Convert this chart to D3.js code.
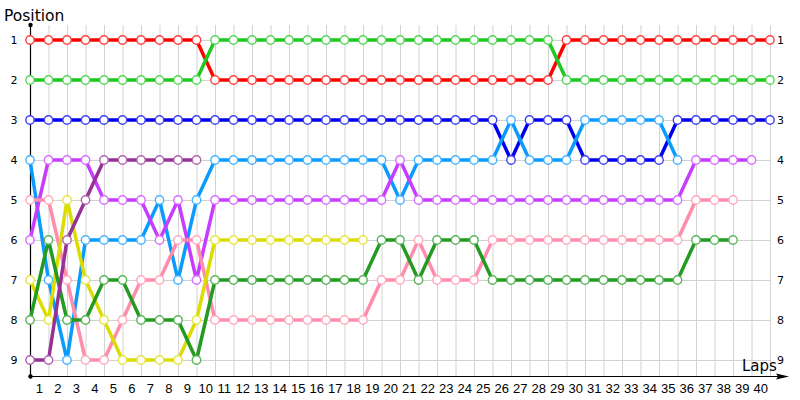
<!DOCTYPE html>
<html><head><meta charset="utf-8">
<script src="https://cdn.jsdelivr.net/npm/d3@7"></script>
<style>
html,body{margin:0;padding:0;background:#fff;}
svg{display:block;}
text{font-family:"DejaVu Sans",sans-serif;fill:#000;}
</style></head>
<body><svg id="chart" width="800" height="400"></svg>
<script>
// ---- data ----
const laps = d3.range(1, 41);            // tick labels 1..40
const positions = [1,2,3,4,5,6,7,8,9];
const seriesNames = ["red","green","blue","lightblue","violet","pink","yellow","darkgreen","plum"];
const seriesColors = ["#ff0000","#1ec81e","#0000f0","#0a9bff","#c83cff","#ff8caa","#dcdc00","#239b23","#963296"];
// position per lap (lap 0 = start)
const red       = [1,1,1,1,1,1,1,1,1,1, 2,2,2,2,2,2,2,2,2,2,2,2,2,2,2,2,2,2,2, 1,1,1,1,1,1,1,1,1,1,1,1];
const green     = [2,2,2,2,2,2,2,2,2,2, 1,1,1,1,1,1,1,1,1,1,1,1,1,1,1,1,1,1,1, 2,2,2,2,2,2,2,2,2,2,2,2];
const blue      = [3,3,3,3,3,3,3,3,3,3, 3,3,3,3,3,3,3,3,3,3,3,3,3,3,3,3, 4,3,3,3, 4,4,4,4,4, 3,3,3,3,3,3];
const lightblue = [4,7,9,6,6,6,6,5,7,5, 4,4,4,4,4,4,4,4,4,4, 5, 4,4,4,4,4, 3,4,4,4, 3,3,3,3,3, 4];
const violet    = [6,4,4,4,5,5,5,6,5,7, 5,5,5,5,5,5,5,5,5,5, 4, 5,5,5,5,5,5,5,5,5,5,5,5,5,5,5, 4,4,4,4];
const pink      = [5,5,7,9,9,8,7,7,6,6, 8,8,8,8,8,8,8,8,8, 7,7,6,7,7,7, 6,6,6,6,6,6,6,6,6,6,6, 5,5,5];
const yellow    = [7,8,5,7,8,9,9,9,9,8, 6,6,6,6,6,6,6,6,6];
const darkgreen = [8,6,8,8,7,7,8,8,8,9, 7,7,7,7,7,7,7,7,7, 6,6,7,6,6,6, 7,7,7,7,7,7,7,7,7,7,7, 6,6,6];
const plum      = [9,9,6,5,4,4,4,4,4,4];
const seriesValues = [red,green,blue,lightblue,violet,pink,yellow,darkgreen,plum];

// ---- chart ----
const svg = d3.select("#chart");
const x = d3.scaleLinear().domain([0, 40]).range([30, 770]);
const y = d3.scaleLinear().domain([1, 9]).range([40, 360]);
const axisY = 376, topY = 25;

// grid
const grid = svg.append("g").attr("stroke", "#d2d2d2").attr("stroke-width", 1);
grid.selectAll("line.v").data(d3.range(0, 41)).join("line")
  .attr("x1", d => x(d) + 0.5).attr("x2", d => x(d) + 0.5)
  .attr("y1", topY).attr("y2", axisY);
grid.selectAll("line.h").data(positions).join("line")
  .attr("x1", x(0)).attr("x2", x(40))
  .attr("y1", d => y(d) + 0.5).attr("y2", d => y(d) + 0.5);

// axes
svg.append("line").attr("x1", x(0)+0.5).attr("x2", x(0)+0.5).attr("y1", topY).attr("y2", axisY)
  .attr("stroke", "#000").attr("stroke-width", 1.2);
svg.append("line").attr("x1", x(0)).attr("x2", 780).attr("y1", axisY+0.5).attr("y2", axisY+0.5)
  .attr("stroke", "#000").attr("stroke-width", 1.2);
svg.append("path").attr("d", `M789,${axisY+0.5} L776,${axisY-2.5} L778,${axisY+0.5} L776,${axisY+3.5} Z`).attr("fill", "#000");
svg.append("circle").attr("cx", x(0)+0.5).attr("cy", topY).attr("r", 2.2).attr("fill", "#000");
svg.append("circle").attr("cx", x(0)+0.5).attr("cy", axisY+0.5).attr("r", 2.2).attr("fill", "#000");

// axis labels
svg.append("text").attr("x", 4).attr("y", 21).style("font-size", "15.5px").text("Position");
svg.append("text").attr("x", 742).attr("y", 371).style("font-size", "15px").text("Laps");

// y tick labels left & right
svg.append("g").selectAll("text").data(positions).join("text")
  .attr("x", 14).attr("y", d => y(d) + 4).attr("text-anchor", "middle")
  .style("font-size", "11px").text(d => d);
svg.append("g").selectAll("text").data(positions).join("text")
  .attr("x", 777).attr("y", d => y(d) + 4)
  .style("font-size", "11px").text(d => d);

// x tick labels (centered between laps)
svg.append("g").selectAll("text").data(laps).join("text")
  .attr("x", d => x(d - 0.5)).attr("y", 393).attr("text-anchor", "middle")
  .style("font-size", "13px").style("font-family", "'Liberation Sans',Arial,sans-serif").text(d => d);

// series
const line = d3.line().x((d, i) => x(i)).y(d => y(d));
const series = seriesValues.map((v, k) => ({name: seriesNames[k], color: seriesColors[k], values: v}));
const sg = svg.append("g").selectAll("g").data(series).join("g");
sg.append("path").attr("d", d => line(d.values)).attr("fill", "none")
  .attr("stroke", d => d.color).attr("stroke-width", 3.5).attr("stroke-linejoin", "round");
sg.selectAll("circle").data(d => d.values.map((v, i) => ({v, i, color: d.color}))).join("circle")
  .attr("cx", d => x(d.i)).attr("cy", d => y(d.v)).attr("r", 4.2)
  .attr("fill", "#fff").attr("stroke", d => d3.interpolateRgb(d.color, "#fff")(0.25)).attr("stroke-width", 1.4);
</script></body></html>
